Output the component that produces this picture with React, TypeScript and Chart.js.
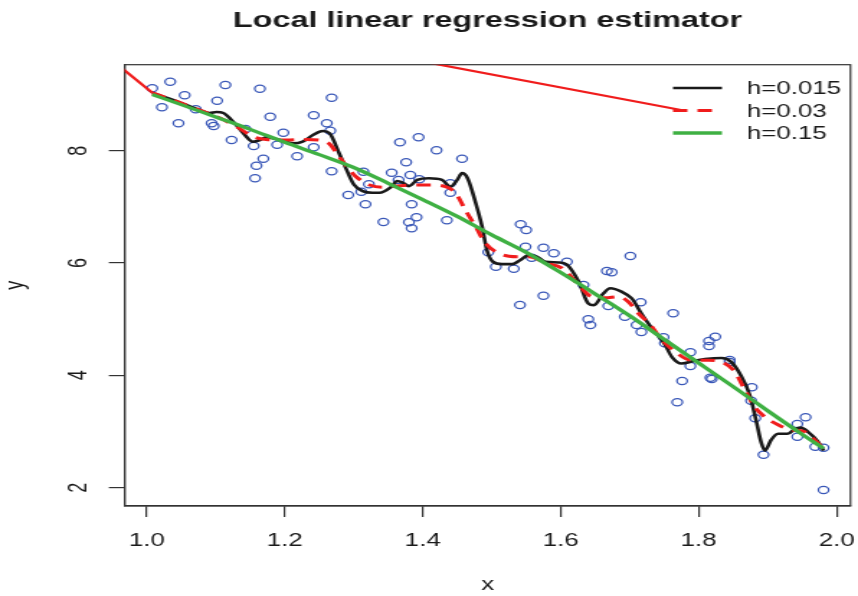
import { useEffect, useRef } from 'react';
import { Chart, registerables } from 'chart.js';

Chart.register(...registerables);

const TITLE = 'Local linear regression estimator';
const X_LABEL = 'x';
const Y_LABEL = 'y';

const xTicks = [1.0, 1.2, 1.4, 1.6, 1.8, 2.0];
const xTickLabels = ['1.0', '1.2', '1.4', '1.6', '1.8', '2.0'];
const yTicks = [2, 4, 6, 8];
const yTickLabels = ['2', '4', '6', '8'];
const xRange = [0.968, 2.02];
const yRange = [1.674, 9.531];

// observations
const obsX = [
  1.008, 1.034, 1.022, 1.055, 1.046, 1.071, 1.114, 1.102, 1.094, 1.097,
  1.123, 1.164, 1.179, 1.143, 1.155, 1.169, 1.159, 1.157, 1.198, 1.189,
  1.218, 1.242, 1.242, 1.261, 1.266, 1.268, 1.268, 1.292,
  1.314, 1.311, 1.322, 1.317, 1.343, 1.355, 1.365, 1.367, 1.376, 1.382,
  1.394, 1.395, 1.384, 1.391, 1.380, 1.384, 1.420, 1.435, 1.440, 1.440,
  1.457, 1.495, 1.506, 1.532, 1.542, 1.550, 1.549, 1.558, 1.575, 1.590,
  1.609, 1.575, 1.541, 1.701, 1.667, 1.674, 1.633, 1.669, 1.716, 1.693,
  1.640, 1.643, 1.710, 1.717, 1.763, 1.749, 1.751, 1.788, 1.788, 1.815,
  1.815, 1.824, 1.845, 1.845, 1.817, 1.819, 1.776, 1.769, 1.877, 1.876,
  1.882, 1.894, 1.943, 1.955, 1.943, 1.969, 1.981, 1.981,
];
const obsY = [
  9.111, 9.228, 8.773, 8.986, 8.488, 8.737, 9.170, 8.890, 8.488, 8.440,
  8.190, 9.104, 8.605, 8.386, 8.084, 7.858, 7.733, 7.509, 8.320, 8.107,
  7.900, 8.630, 8.061, 8.488, 8.356, 8.944, 7.633, 7.211,
  7.626, 7.270, 7.402, 7.046, 6.731, 7.608, 7.478, 8.150, 7.793, 7.567,
  8.239, 7.491, 7.046, 6.814, 6.725, 6.618, 8.007, 6.761, 7.420, 7.252,
  7.858, 6.191, 5.935, 5.899, 6.690, 6.588, 6.291, 6.095, 6.273, 6.173,
  6.024, 5.419, 5.253, 6.125, 5.858, 5.835, 5.609, 5.235, 5.301, 5.045,
  4.998, 4.897, 4.897, 4.772, 5.105, 4.678, 4.571, 4.411, 4.167, 4.612,
  4.523, 4.689, 4.274, 4.238, 3.959, 3.935, 3.900, 3.521, 3.788, 3.549,
  3.236, 2.588, 3.134, 3.254, 2.908, 2.730, 2.712, 1.959,
];

// h = 0.015 fit
const fit015X = [
  1.008, 1.034, 1.058, 1.077, 1.091, 1.101, 1.111, 1.125, 1.140, 1.154,
  1.164, 1.173, 1.193, 1.212, 1.226, 1.241, 1.255, 1.265, 1.279, 1.290,
  1.300, 1.313, 1.327, 1.337, 1.354, 1.363, 1.371, 1.380, 1.392, 1.409,
  1.428, 1.440, 1.450, 1.457, 1.465, 1.477, 1.486, 1.493, 1.501, 1.515,
  1.530, 1.541, 1.554, 1.566, 1.578, 1.597, 1.609, 1.626, 1.640, 1.648,
  1.662, 1.672, 1.688, 1.703, 1.717, 1.732, 1.751, 1.761, 1.775, 1.794,
  1.809, 1.833, 1.847, 1.862, 1.874, 1.883, 1.891, 1.896, 1.905, 1.915,
  1.929, 1.939, 1.948, 1.958, 1.973, 1.981,
];
const fit015Y = [
  9.03, 8.92, 8.81, 8.72, 8.67, 8.69, 8.67, 8.52, 8.31, 8.16,
  8.19, 8.24, 8.19, 8.13, 8.16, 8.28, 8.35, 8.31, 7.95, 7.65,
  7.40, 7.28, 7.25, 7.25, 7.35, 7.46, 7.43, 7.37, 7.48, 7.51,
  7.48, 7.36, 7.48, 7.60, 7.51, 7.06, 6.65, 6.23, 6.03, 5.98,
  5.98, 6.05, 6.14, 6.11, 6.02, 6.01, 5.97, 5.67, 5.28, 5.25,
  5.46, 5.55, 5.49, 5.37, 5.10, 4.84, 4.55, 4.33, 4.21, 4.26,
  4.29, 4.31, 4.24, 3.98, 3.65, 3.21, 2.79, 2.66, 2.85, 2.96,
  2.96, 3.04, 3.07, 3.00, 2.82, 2.66,
];

// h = 0.03 fit
const fit03X = [
  1.008, 1.034, 1.058, 1.080, 1.106, 1.130, 1.154, 1.173, 1.202, 1.231,
  1.250, 1.265, 1.279, 1.290, 1.303, 1.323, 1.342, 1.361, 1.385, 1.409,
  1.433, 1.448, 1.462, 1.477, 1.491, 1.506, 1.525, 1.544, 1.554, 1.578,
  1.602, 1.626, 1.645, 1.664, 1.684, 1.698, 1.713, 1.732, 1.742, 1.766,
  1.790, 1.814, 1.833, 1.852, 1.867, 1.881, 1.896, 1.915, 1.934, 1.953,
  1.968, 1.981,
];
const fit03Y = [
  9.03, 8.92, 8.81, 8.71, 8.58, 8.43, 8.25, 8.20, 8.19, 8.20,
  8.19, 8.12, 7.89, 7.72, 7.54, 7.39, 7.35, 7.37, 7.39, 7.39,
  7.36, 7.24, 6.94, 6.64, 6.35, 6.20, 6.12, 6.11, 6.11, 6.00,
  5.91, 5.61, 5.40, 5.38, 5.40, 5.31, 5.10, 4.87, 4.70, 4.42,
  4.27, 4.27, 4.24, 4.07, 3.74, 3.44, 3.26, 3.12, 3.03, 3.00,
  2.85, 2.70,
];

// h = 0.15 fit
const fit15X = [
  1.008, 1.05, 1.10, 1.15, 1.20, 1.25, 1.30, 1.35, 1.40, 1.45,
  1.50, 1.55, 1.60, 1.65, 1.70, 1.75, 1.80, 1.85, 1.90, 1.95, 1.981,
];
const fit15Y = [
  9.00, 8.82, 8.60, 8.38, 8.15, 7.93, 7.70, 7.42, 7.13, 6.83,
  6.50, 6.19, 5.83, 5.45, 5.06, 4.64, 4.22, 3.80, 3.37, 2.95, 2.70,
];

// stray red segment seen in the figure (runs off the plot and back to the legend)
const strayRedX = [1.008, 0.817, 1.782];
const strayRedY = [9.03, 10.93, 8.707];

const legendLabels = ['h=0.015', 'h=0.03', 'h=0.15'];

const toPts = (xs: number[], ys: number[]) => xs.map((x, i) => ({ x, y: ys[i] }));

const FONT = '"Liberation Sans", Arial, Helvetica, sans-serif';
const TEXT = '#1a1a1a';
const AXIS = '#333333';

export default function App() {
  const ref = useRef<HTMLCanvasElement | null>(null);

  useEffect(() => {
    const canvas = ref.current;
    if (!canvas) return;

    const decor = {
      id: 'decor',
      beforeDatasetsDraw(chart: any) {
        const { ctx, chartArea: a } = chart;
        ctx.save();
        ctx.strokeStyle = AXIS;
        ctx.lineWidth = 1.2;
        ctx.strokeRect(a.left, a.top, a.right - a.left, a.bottom - a.top);
        ctx.restore();
      },
      afterDraw(chart: any) {
        const { ctx, chartArea: a } = chart;
        ctx.save();
        ctx.fillStyle = TEXT;
        ctx.font = `bold 22.5px ${FONT}`;
        ctx.textAlign = 'center';
        ctx.textBaseline = 'alphabetic';
        ctx.fillText(TITLE, (a.left + a.right) / 2, 27);

        // legend (no box)
        const rows = [88, 110.5, 133];
        const x0 = 467.5;
        const x1 = 501.5;
        const tx = 518.7;
        ctx.font = `18px ${FONT}`;
        ctx.textAlign = 'left';
        ctx.textBaseline = 'middle';
        legendLabels.forEach((lab, i) => {
          const ds = chart.data.datasets.find((d: any) => d.label === lab);
          if (!ds) return;
          ctx.save();
          ctx.strokeStyle = ds.borderColor;
          ctx.lineWidth = ds.borderWidth;
          ctx.setLineDash(ds.borderDash || []);
          ctx.lineCap = 'butt';
          ctx.beginPath();
          ctx.moveTo(x0, rows[i]);
          ctx.lineTo(x1, rows[i]);
          ctx.stroke();
          ctx.restore();
          ctx.fillStyle = TEXT;
          ctx.fillText(lab, tx, rows[i] + 1.5);
        });
        ctx.restore();
      },
    };

    const chart = new Chart(canvas, {
      type: 'scatter',
      data: {
        datasets: [
          {
            label: 'h=0.15',
            data: toPts(fit15X, fit15Y),
            showLine: true,
            borderColor: '#3fb043',
            borderWidth: 3.3,
            pointRadius: 0,
            cubicInterpolationMode: 'monotone',
            borderJoinStyle: 'round',
          },
          {
            label: 'stray',
            data: toPts(strayRedX, strayRedY),
            showLine: true,
            borderColor: '#f01c1c',
            borderWidth: 2.2,
            pointRadius: 0,
            tension: 0,
          },
          {
            label: 'h=0.03',
            data: toPts(fit03X, fit03Y),
            showLine: true,
            borderColor: '#f01c1c',
            borderWidth: 3,
            borderDash: [10, 7],
            borderCapStyle: 'butt',
            pointRadius: 0,
            cubicInterpolationMode: 'monotone',
          },
          {
            label: 'h=0.015',
            data: toPts(fit015X, fit015Y),
            showLine: true,
            borderColor: '#1a1a1a',
            borderWidth: 2.6,
            pointRadius: 0,
            cubicInterpolationMode: 'monotone',
            borderJoinStyle: 'round',
          },
          {
            label: 'obs',
            data: toPts(obsX, obsY),
            showLine: false,
            pointRadius: 3.6,
            pointBorderWidth: 1.25,
            pointBorderColor: '#3a58b8',
            pointBackgroundColor: 'rgba(0,0,0,0)',
            pointStyle: 'circle',
          },
        ],
      } as any,
      options: {
        responsive: false,
        animation: false,
        devicePixelRatio: 1,
        events: [],
        layout: { padding: { left: 0, top: 64.7, right: 3.7, bottom: 0 } },
        plugins: {
          legend: { display: false },
          title: { display: false },
          tooltip: { enabled: false },
        },
        scales: {
          x: {
            type: 'linear',
            min: xRange[0],
            max: xRange[1],
            afterBuildTicks: (s: any) => {
              s.ticks = xTicks.map((v) => ({ value: v }));
            },
            afterFit: (s: any) => {
              s.height = 90;
              s.paddingLeft = 0;
              s.paddingRight = 0;
            },
            ticks: {
              autoSkip: false,
              maxRotation: 0,
              minRotation: 0,
              padding: 13.5,
              color: TEXT,
              font: { family: FONT, size: 18 },
              callback: (v: any) => {
                const i = xTicks.findIndex((t) => Math.abs(t - Number(v)) < 1e-9);
                return i >= 0 ? xTickLabels[i] : '';
              },
            },
            grid: {
              display: true,
              drawOnChartArea: false,
              drawTicks: true,
              tickLength: 11,
              color: AXIS,
              lineWidth: 1.2,
            },
            border: { display: true, color: AXIS, width: 1.2 },
            title: {
              display: true,
              text: X_LABEL,
              color: TEXT,
              font: { family: FONT, size: 18 },
              padding: { top: 0, bottom: 0 },
            },
          },
          y: {
            type: 'linear',
            min: yRange[0],
            max: yRange[1],
            afterBuildTicks: (s: any) => {
              s.ticks = yTicks.map((v) => ({ value: v }));
            },
            afterFit: (s: any) => {
              s.width = 86.6;
              s.paddingTop = 0;
              s.paddingBottom = 0;
            },
            ticks: {
              autoSkip: false,
              minRotation: 90,
              maxRotation: 90,
              crossAlign: 'center',
              padding: 16,
              color: TEXT,
              font: { family: FONT, size: 18 },
              callback: (v: any) => {
                const i = yTicks.findIndex((t) => Math.abs(t - Number(v)) < 1e-9);
                return i >= 0 ? yTickLabels[i] : '';
              },
            },
            grid: {
              display: true,
              drawOnChartArea: false,
              drawTicks: true,
              tickLength: 11,
              color: AXIS,
              lineWidth: 1.2,
            },
            border: { display: true, color: AXIS, width: 1.2 },
            title: {
              display: true,
              text: Y_LABEL,
              color: TEXT,
              font: { family: FONT, size: 18 },
              padding: { top: 0, bottom: 0 },
            },
          },
        },
      } as any,
      plugins: [decor],
    });

    return () => chart.destroy();
  }, []);

  return (
    <div style={{ position: 'absolute', left: 0, top: 0, width: 858, height: 596, background: '#ffffff' }}>
      <canvas
        ref={ref}
        width={596}
        height={596}
        style={{ width: '858px', height: '596px', display: 'block' }}
      />
    </div>
  );
}
